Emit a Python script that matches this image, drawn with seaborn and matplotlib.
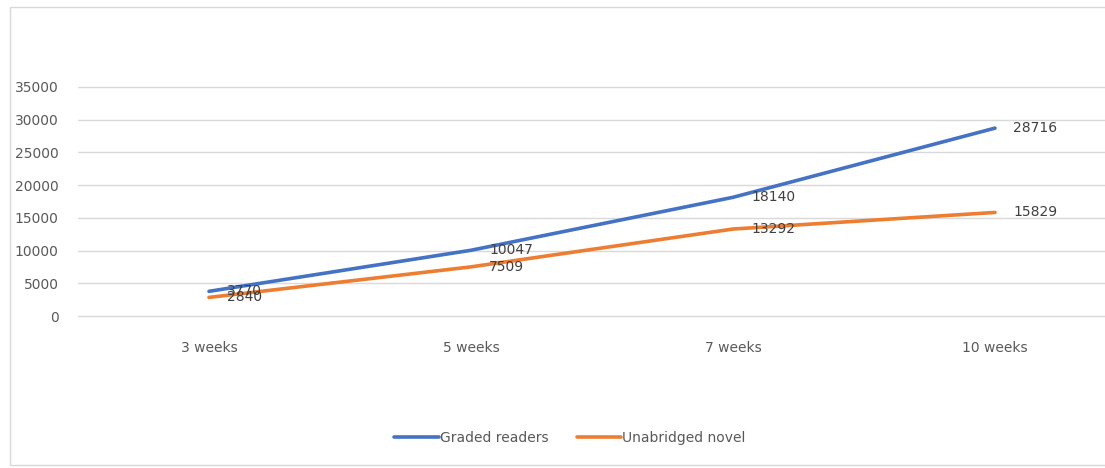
import matplotlib
matplotlib.use("Agg")
from matplotlib import pyplot as plt
from matplotlib.patches import Rectangle
import seaborn as sns
import pandas as pd

weeks = ["3 weeks", "5 weeks", "7 weeks", "10 weeks"]
graded_readers = [3770, 10047, 18140, 28716]
unabridged_novel = [2840, 7509, 13292, 15829]
series_names = ["Graded readers", "Unabridged novel"]
colors = ["#4472C4", "#ED7D31"]

df = pd.DataFrame({
    "week": weeks * 2,
    "words": graded_readers + unabridged_novel,
    "series": [series_names[0]] * 4 + [series_names[1]] * 4,
})

sns.set_theme(style="white")
plt.rcParams["font.family"] = ["DejaVu Sans"]

fig = plt.figure(figsize=(11.05, 4.68), dpi=100)
# chart frame (runs off the right edge like the screenshot)
fig.patches.append(Rectangle((10 / 1105, 3 / 468), 1.2, 458 / 468, transform=fig.transFigure,
                             fill=False, edgecolor="#d9d9d9", linewidth=1))
ax = fig.add_axes([78 / 1105, 1 - 316 / 468, 1048 / 1105, 229 / 468])

sns.lineplot(data=df, x="week", y="words", hue="series", palette=colors,
             linewidth=2.6, ax=ax, legend=False, sort=False)

ax.set_xlim(-0.5, 3.5)
ax.set_ylim(0, 35000)
ax.set_yticks(range(0, 35001, 5000))
ax.yaxis.grid(True, color="#d9d9d9", linewidth=1)
for gl in ax.get_ygridlines():
    gl.set_clip_on(False)
ax.set_axisbelow(True)
for s in ax.spines.values():
    s.set_visible(False)
ax.set_xlabel("")
ax.set_ylabel("")
ax.tick_params(axis="y", colors="#595959", labelsize=10, length=0, pad=14)
ax.tick_params(axis="x", colors="#595959", labelsize=10, length=0, pad=18)

# data labels, to the right of each point
for vals in (graded_readers, unabridged_novel):
    for i, v in enumerate(vals):
        ax.annotate(str(v), (i, v), xytext=(13, 0), textcoords="offset points",
                    ha="left", va="center", fontsize=10, color="#404040")

handles = [plt.Line2D([], [], color=c, linewidth=2.6) for c in colors]
fig.legend(handles, series_names, loc="center", bbox_to_anchor=(570 / 1105, 1 - 438 / 468),
           ncol=2, frameon=False, fontsize=10, handlelength=3.2, handletextpad=0.1,
           columnspacing=2.0, labelcolor="#595959")

fig.savefig("out.png", dpi=100)
